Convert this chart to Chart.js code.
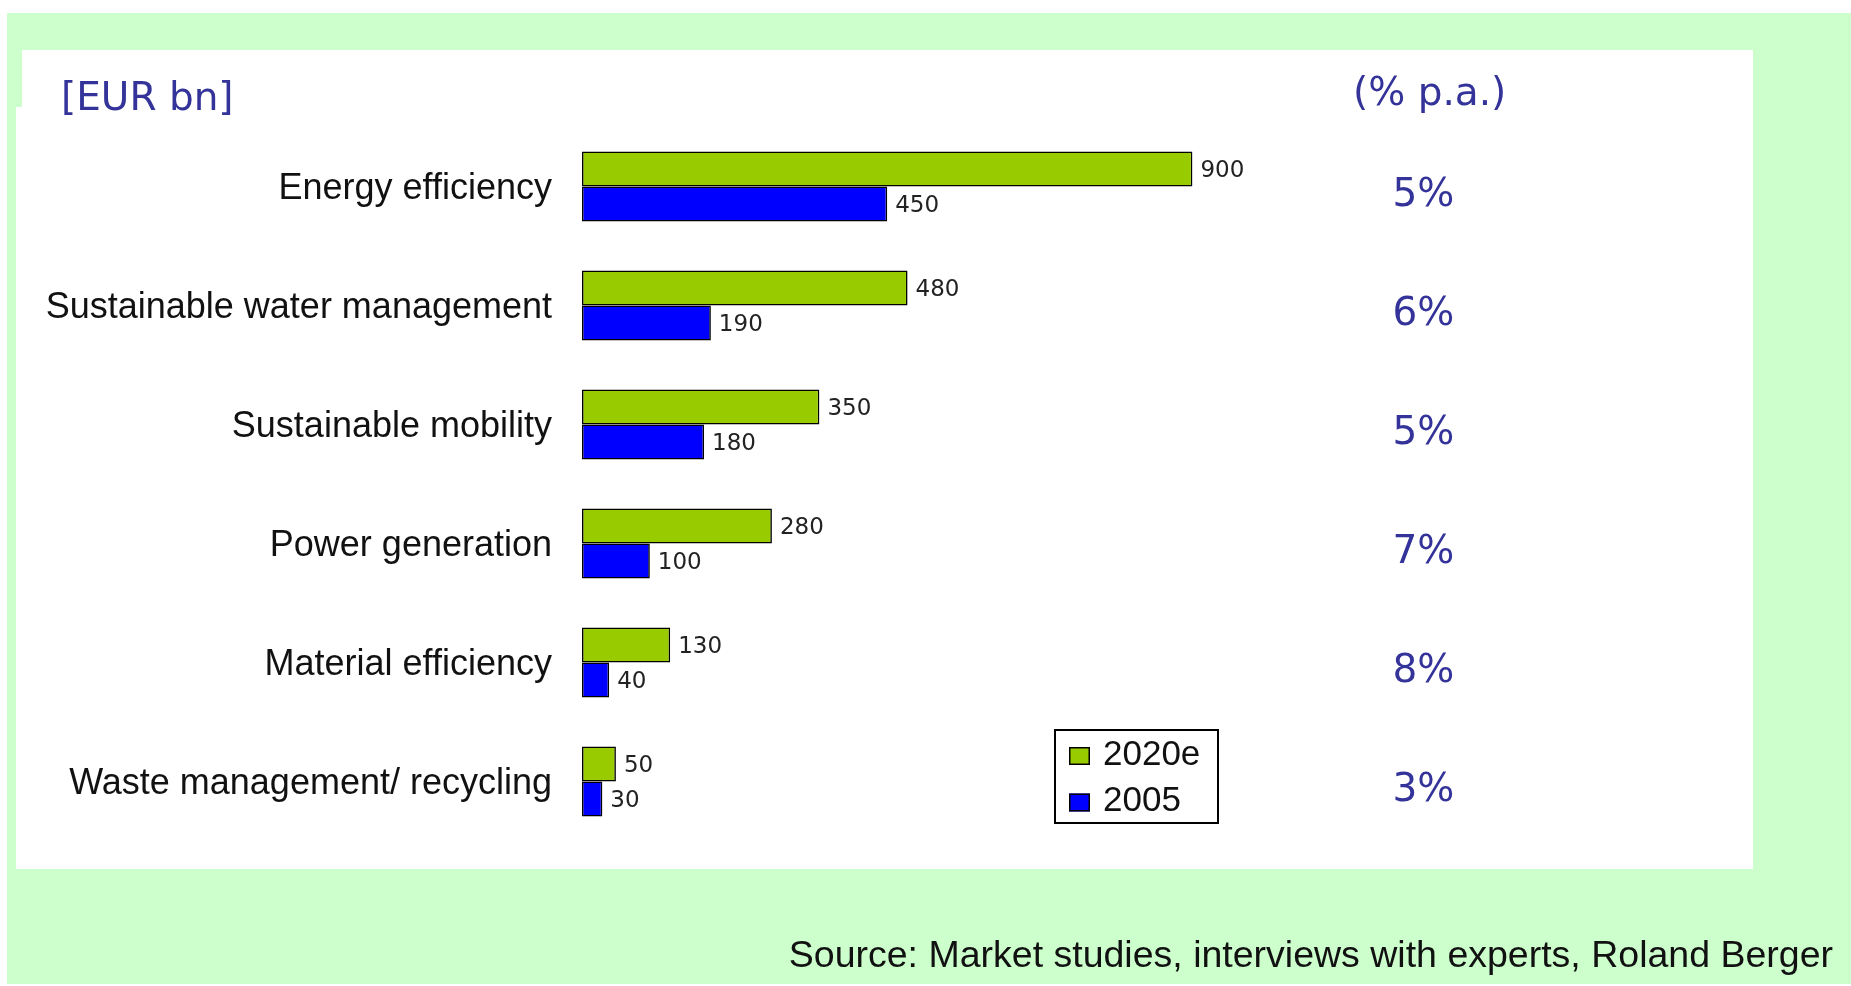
<!DOCTYPE html>
<html>
<head>
<meta charset="utf-8">
<script src="https://cdn.jsdelivr.net/npm/chart.js@4.4.1/dist/chart.umd.min.js"></script>
<style>
html,body{margin:0;padding:0;background:#fff;width:1851px;height:986px;overflow:hidden}
#green{position:absolute;left:7px;top:13px;width:1844px;height:971px;background:#ccffcc}
#panel{position:absolute;left:16px;top:50px;width:1737px;height:819px;background:#fff}
#notch{position:absolute;left:16px;top:50px;width:6px;height:57px;background:#ccffcc}
#c{position:absolute;left:0;top:0}
</style>
</head>
<body>
<div id="green"></div>
<div id="panel"></div>
<div id="notch"></div>
<canvas id="c" width="1851" height="986"></canvas>
<script>
// ---- data ----
const categories = ['Energy efficiency', 'Sustainable water management', 'Sustainable mobility', 'Power generation', 'Material efficiency', 'Waste management/ recycling'];
const seriesNames = ['2020e', '2005'];
const values2020e = [900, 480, 350, 280, 130, 50];
const values2005 = [450, 190, 180, 100, 40, 30];
const growthLabels = ['5%', '6%', '5%', '7%', '8%', '3%'];
const unitLabel = '[EUR bn]';
const growthHeader = '(% p.a.)';
const sourceText = 'Source: Market studies, interviews with experts, Roland Berger';

const GREEN = '#99cc00', BLUE = '#0000ff', NAVY = '#333399';

const valueLabels = {
  id: 'valueLabels',
  afterDatasetsDraw(chart) {
    const ctx = chart.ctx;
    ctx.save();
    ctx.font = '23px "DejaVu Sans", Verdana, sans-serif';
    ctx.fillStyle = '#222';
    ctx.textAlign = 'left';
    ctx.textBaseline = 'middle';
    chart.data.datasets.forEach((ds, i) => {
      chart.getDatasetMeta(i).data.forEach((el, j) => {
        ctx.fillText(String(ds.data[j]), el.x + 8, el.y + 2);
      });
    });
    ctx.restore();
  }
};

const decorations = {
  id: 'decorations',
  afterDraw(chart) {
    const ctx = chart.ctx;
    ctx.save();
    // unit + growth header
    ctx.fillStyle = NAVY;
    ctx.font = '39px "DejaVu Sans", Verdana, sans-serif';
    ctx.textAlign = 'left';
    ctx.textBaseline = 'alphabetic';
    ctx.fillText(unitLabel, 61, 110);
    ctx.fillText(growthHeader, 1353, 105);
    // source
    ctx.fillStyle = '#111';
    ctx.font = '37.5px "Liberation Sans", Arial, sans-serif';
    ctx.textAlign = 'right';
    ctx.fillText(sourceText, 1833, 967);
    // legend
    const lx = 1054, ly = 729, lw = 165, lh = 95;
    ctx.fillStyle = '#fff';
    ctx.fillRect(lx, ly, lw, lh);
    ctx.strokeStyle = '#000';
    ctx.lineWidth = 2;
    ctx.strokeRect(lx + 1, ly + 1, lw - 2, lh - 2);
    ctx.font = '35px "Liberation Sans", Arial, sans-serif';
    ctx.textAlign = 'left';
    chart.data.datasets.forEach((ds, i) => {
      const sy = ly + 18 + i * 46.5;
      ctx.fillStyle = ds.backgroundColor;
      ctx.fillRect(lx + 15, sy, 21, 18);
      ctx.lineWidth = 1.5;
      ctx.strokeStyle = '#000';
      ctx.strokeRect(lx + 15.75, sy + 0.75, 19.5, 16.5);
      ctx.fillStyle = '#111';
      ctx.fillText(ds.label, lx + 49, sy + 17.5);
    });
    ctx.restore();
  }
};

new Chart(document.getElementById('c'), {
  type: 'bar',
  data: {
    labels: categories,
    datasets: [
      { label: seriesNames[0], data: values2020e, backgroundColor: GREEN, borderColor: '#000', borderWidth: 1.6, borderSkipped: false, categoryPercentage: 0.59, barPercentage: 1 },
      { label: seriesNames[1], data: values2005, backgroundColor: BLUE, borderColor: '#000', borderWidth: 1.6, borderSkipped: false, categoryPercentage: 0.59, barPercentage: 1 }
    ]
  },
  options: {
    indexAxis: 'y',
    responsive: false,
    animation: false,
    devicePixelRatio: 1,
    layout: { padding: { top: 127, bottom: 145, left: 0, right: 0 } },
    plugins: { legend: { display: false }, tooltip: { enabled: false }, title: { display: false } },
    scales: {
      x: { display: false, min: 0, max: 1195 },
      y: {
        position: 'left',
        grid: { display: false, drawTicks: false },
        border: { display: false },
        ticks: { font: { family: '"Liberation Sans", Arial, sans-serif', size: 36 }, color: '#111', padding: 30, labelOffset: 2.5, autoSkip: false },
        afterFit: s => { s.width = 582; }
      },
      y2: {
        type: 'category',
        labels: growthLabels,
        position: 'right',
        offset: true,
        grid: { display: false, drawTicks: false },
        border: { display: false },
        ticks: { font: { family: '"DejaVu Sans", Verdana, sans-serif', size: 39 }, color: NAVY, padding: 0, labelOffset: 9, autoSkip: false },
        afterFit: s => { s.width = 1851 - 1392.5; }
      }
    }
  },
  plugins: [valueLabels, decorations]
});
</script>
</body>
</html>
